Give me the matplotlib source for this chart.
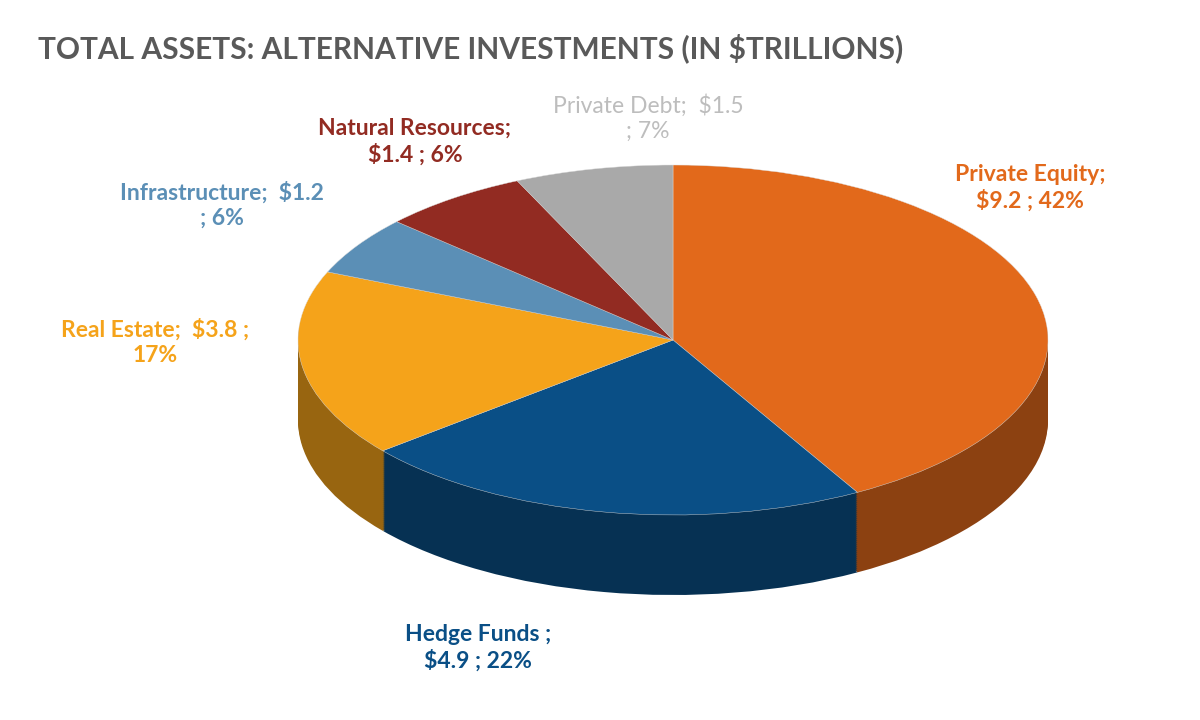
import matplotlib
matplotlib.use("Agg")
import matplotlib.pyplot as plt
import matplotlib.colors as mc
import numpy as np

categories = ["Private Equity", "Hedge Funds", "Real Estate", "Infrastructure", "Natural Resources", "Private Debt"]
values = [9.2, 4.9, 3.8, 1.2, 1.4, 1.5]
percents = [42, 22, 17, 6, 6, 7]
colors = ["#e2691b", "#0a4f86", "#f5a31a", "#5b8fb6", "#922b22", "#a9a9a9"]
label_colors = ["#e2691b", "#0a4f86", "#f5a31a", "#5b8fb6", "#922b22", "#bdbdbd"]
label_text = [
    "Private Equity;\n${v} ; {p}%",
    "Hedge Funds ;\n${v} ; {p}%",
    "Real Estate;  ${v} ;\n{p}%",
    "Infrastructure;  ${v}\n; {p}%",
    "Natural Resources;\n${v} ; {p}%",
    "Private Debt;  ${v}\n; {p}%",
]
label_pos = [(1030, 188), (478, 648), (155, 342), (222, 205), (415, 142), (648, 118)]

W, H = 1200, 720
cx, cy, rx, ry, depth = 673, 340, 375, 175, 80
fig = plt.figure(figsize=(12, 7.2), dpi=100)
ax = fig.add_axes([0, 0, 1, 1])
ax.axis("off")

def darken(c, f):
    r, g, b = mc.to_rgb(c)
    return (r * f, g * f, b * f)

n = 40
d = depth / ry
for i in range(n, 0, -1):
    off = -d * i / n
    ax.pie(values, colors=[darken(c, 0.62) for c in colors], startangle=90,
           counterclock=False, center=(0, off), radius=1,
           wedgeprops=dict(linewidth=0))
ax.pie(values, colors=colors, startangle=90, counterclock=False,
       center=(0, 0), radius=1, wedgeprops=dict(linewidth=0.3, edgecolor="#dddddd"))
ax.set_aspect("auto")
ax.set_xlim(-cx / rx, (W - cx) / rx)
ax.set_ylim(-(H - cy) / ry, cy / ry)

fig.text(38 / W, 1 - 48 / H, "TOTAL ASSETS: ALTERNATIVE INVESTMENTS (IN $TRILLIONS)",
         fontsize=21.5, fontweight="bold", color="#595959", family="Lato",
         va="center", ha="left")

for t, v, p, c, (x, y), name in zip(label_text, values, percents, label_colors, label_pos, categories):
    s = t.format(v=v, p=p)
    fig.text(x / W, 1 - y / H, s, ha="center", va="center", fontsize=16.5,
             fontweight="normal" if name == "Private Debt" else "bold",
             color=c, family="Lato", linespacing=1.25)

fig.savefig("out.png", dpi=100, facecolor="white")
